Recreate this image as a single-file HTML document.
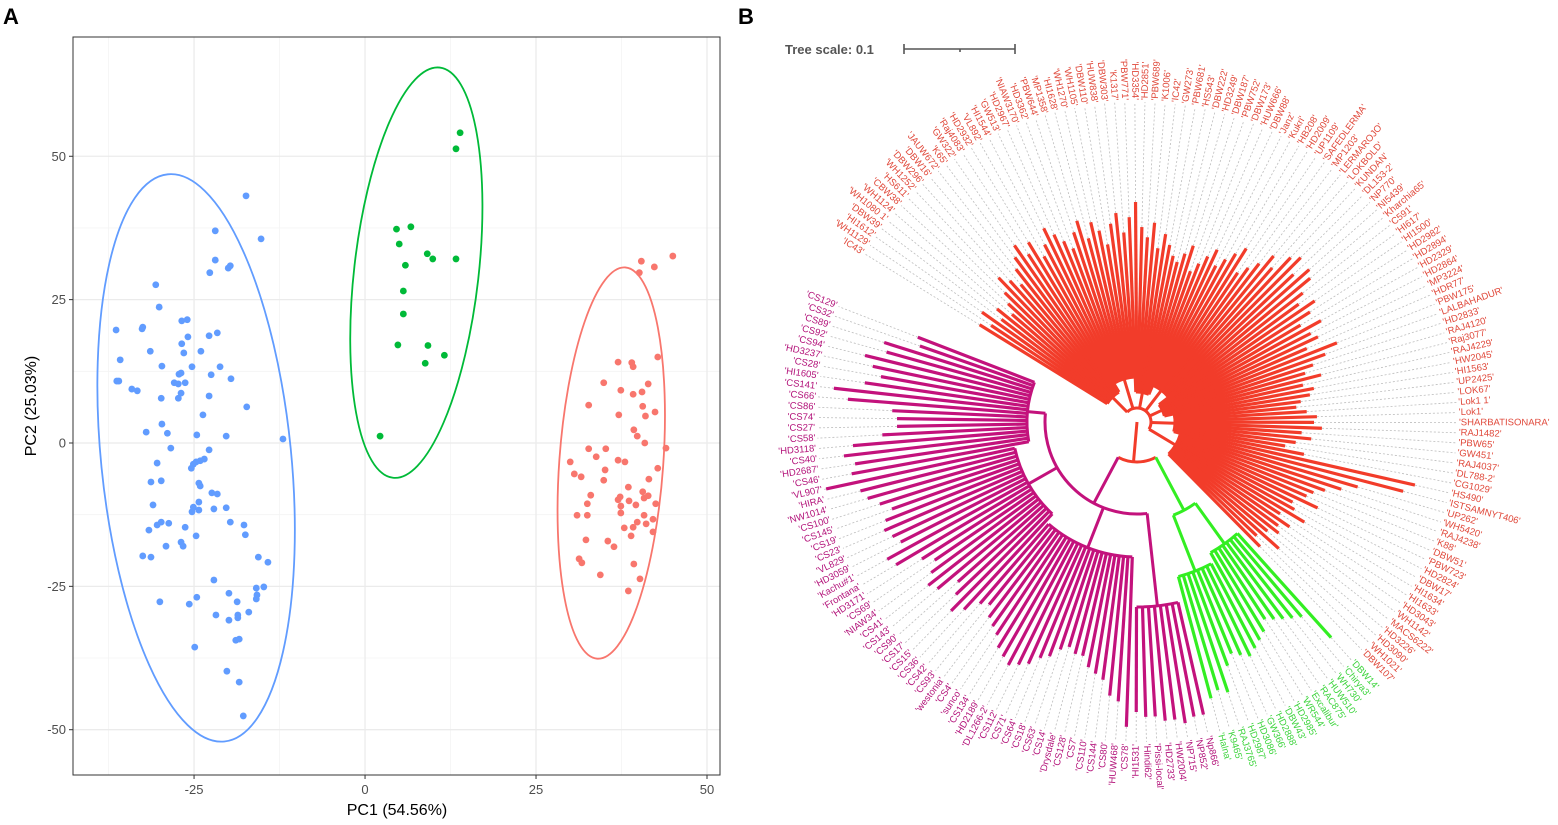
<!DOCTYPE html>
<html><head><meta charset="utf-8">
<style>
html,body{margin:0;padding:0;background:#fff;}
svg{display:block;font-family:"Liberation Sans",sans-serif;}
</style></head>
<body>
<svg id="root" width="1558" height="825" viewBox="0 0 1558 825" xmlns="http://www.w3.org/2000/svg">
  <text x="3" y="24" font-size="22" font-weight="bold">A</text>
  <text x="738" y="24" font-size="22" font-weight="bold">B</text>
  <g id="pca"></g>
  <g id="tree">
    <text x="785" y="54" font-size="13" font-weight="bold" fill="#555">Tree scale: 0.1</text>
    <g stroke="#555" stroke-width="1.6">
      <line x1="904" y1="49" x2="1015" y2="49"/><line x1="904" y1="44" x2="904" y2="54"/><line x1="1015" y1="44" x2="1015" y2="54"/><line x1="960" y1="49" x2="960" y2="52"/>
    </g>
  </g>
</svg>
<script>
const NS="http://www.w3.org/2000/svg";
// ---------- PCA data ----------
const xTicks=[-25,0,25,50];
const yTicks=[-50,-25,0,25,50];
const xMinor=[-37.5,-12.5,12.5,37.5];
const yMinor=[-37.5,-12.5,12.5,37.5];
const blueGroup=[[-17.4,43.1],[-21.9,37.0],[-15.2,35.6],[-21.9,31.9],[-19.7,30.9],[-20.0,30.5],[-22.7,29.7],[-30.6,27.6],[-30.1,23.7],[-26.8,21.3],[-26.0,21.5],[-36.4,19.7],[-32.5,20.2],[-32.6,19.9],[-25.9,18.5],[-22.8,18.7],[-21.6,19.2],[-26.8,17.3],[-31.4,16.0],[-26.5,15.7],[-24.0,16.0],[-35.8,14.5],[-29.7,13.4],[-25.3,13.3],[-21.2,13.3],[-26.9,12.2],[-27.2,12.0],[-22.5,11.9],[-19.6,11.2],[-36.3,10.8],[-36.0,10.8],[-34.1,9.4],[-33.3,9.1],[-27.9,10.5],[-27.3,10.3],[-26.3,10.5],[-26.9,8.7],[-27.3,7.8],[-29.8,7.8],[-22.8,8.2],[-17.3,6.3],[-23.7,4.9],[-29.7,3.3],[-32.0,1.9],[-28.9,1.7],[-24.6,1.4],[-20.3,1.2],[-12.0,0.7],[-28.4,-0.9],[-22.8,-1.2],[-23.5,-2.8],[-24.1,-3.1],[-24.7,-3.3],[-25.1,-3.7],[-25.4,-4.4],[-30.4,-3.5],[-31.3,-6.8],[-29.8,-6.6],[-24.3,-7.0],[-24.1,-7.5],[-22.4,-8.7],[-21.6,-8.9],[-31.0,-10.8],[-24.3,-10.3],[-25.1,-11.2],[-25.3,-12.0],[-24.3,-11.7],[-22.1,-11.5],[-20.3,-11.3],[-29.8,-13.8],[-30.4,-14.3],[-28.7,-14.0],[-31.6,-15.2],[-26.3,-14.7],[-24.7,-16.2],[-19.7,-13.8],[-17.7,-14.3],[-17.5,-16.0],[-26.9,-17.3],[-26.6,-18.0],[-29.1,-18.0],[-32.5,-19.7],[-31.3,-19.9],[-15.6,-19.9],[-14.2,-20.8],[-22.1,-23.9],[-15.9,-25.3],[-14.8,-25.1],[-15.8,-26.5],[-15.9,-27.2],[-19.9,-26.2],[-18.7,-27.7],[-30.0,-27.7],[-25.7,-28.1],[-24.6,-26.9],[-21.8,-30.0],[-19.9,-30.9],[-18.6,-30.0],[-18.6,-30.5],[-17.0,-29.5],[-18.9,-34.4],[-18.4,-34.2],[-24.9,-35.6],[-20.2,-39.8],[-18.4,-41.7],[-17.8,-47.6]];
const greenGroup=[[13.9,54.1],[13.3,51.3],[4.6,37.3],[6.7,37.7],[5.0,34.7],[9.1,33.0],[9.9,32.1],[13.3,32.1],[5.9,31.0],[5.6,26.5],[5.6,22.5],[11.6,15.3],[4.8,17.1],[9.2,17.0],[8.8,13.9],[2.2,1.2]];
const redGroup=[[40.4,31.7],[42.3,30.7],[45.0,32.6],[40.1,29.7],[37.0,14.1],[39.0,14.0],[39.2,13.3],[42.8,15.0],[34.9,10.5],[37.4,9.2],[41.4,10.3],[39.2,8.5],[40.5,8.9],[32.7,6.6],[40.6,6.4],[37.1,4.9],[41.0,4.7],[42.4,5.4],[39.3,2.3],[39.8,1.2],[40.9,0],[44.0,-0.9],[32.7,-1.0],[35.2,-1.0],[33.8,-2.4],[37.0,-3.0],[38.0,-3.3],[30.0,-3.3],[35.1,-4.7],[30.6,-5.4],[31.6,-5.9],[42.8,-4.4],[34.9,-6.5],[41.5,-6.3],[38.5,-7.7],[33.0,-9.1],[40.6,-8.5],[41.4,-9.2],[40.8,-9.6],[37.3,-9.4],[37.0,-9.9],[32.5,-10.6],[38.6,-10.1],[39.6,-10.8],[42.5,-10.6],[37.4,-11.0],[37.4,-12.2],[31.0,-12.6],[32.5,-12.6],[40.8,-12.6],[42.1,-13.3],[41.1,-14.1],[39.8,-13.8],[39.2,-14.7],[37.9,-14.8],[42.1,-15.5],[38.9,-16.2],[32.3,-16.9],[35.5,-17.1],[36.4,-18.1],[31.3,-20.2],[31.7,-20.9],[39.3,-21.1],[34.4,-23.0],[40.2,-23.7],[38.5,-25.8]];
// ellipses: center PC1, center PC2, half-width (PC1 units), half-height (PC2 units), tilt deg
const ellipseCenters=[[-24.7,-2.6],[7.5,29.7],[36.0,-3.5]];
const ellipseAxes=[[13.9,49.7],[9.1,36.0],[7.6,34.2]];
const ellipseTilt=[-5.7,6.5,4.1];
const groupColors=["#619CFF","#00BA38","#F8766D"];

const PX0=73,PX1=720,PY0=37,PY1=775;
const XMIN=-42.7,XMAX=51.9,YMIN=-57.9,YMAX=70.8;
const sx=v=>PX0+(v-XMIN)/(XMAX-XMIN)*(PX1-PX0);
const sy=v=>PY1-(v-YMIN)/(YMAX-YMIN)*(PY1-PY0);
function el(tag,attrs,parent){const e=document.createElementNS(NS,tag);for(const k in attrs)e.setAttribute(k,attrs[k]);parent.appendChild(e);return e;}
const pca=document.getElementById('pca');
el('rect',{x:PX0,y:PY0,width:PX1-PX0,height:PY1-PY0,fill:'#fff'},pca);
xMinor.forEach(v=>{const l=el('line',{x1:sx(v),x2:sx(v),y1:PY0,y2:PY1,stroke:'#f4f4f4','stroke-width':0.8},pca);

});
yMinor.forEach(v=>{const l=el('line',{y1:sy(v),y2:sy(v),x1:PX0,x2:PX1,stroke:'#f4f4f4','stroke-width':0.8},pca);

});
xTicks.forEach(v=>{const l=el('line',{x1:sx(v),x2:sx(v),y1:PY0,y2:PY1,stroke:'#ebebeb','stroke-width':1.3},pca);


const t=el('line',{x1:sx(v),x2:sx(v),y1:PY1,y2:PY1+4,stroke:'#333','stroke-width':1},pca);


const tx=el('text',{x:sx(v),y:PY1+19,'text-anchor':'middle','font-size':13,fill:'#4d4d4d'},pca);tx.textContent=v;

});
yTicks.forEach(v=>{const l=el('line',{y1:sy(v),y2:sy(v),x1:PX0,x2:PX1,stroke:'#ebebeb','stroke-width':1.3},pca);


const t=el('line',{y1:sy(v),y2:sy(v),x1:PX0-4,x2:PX0,stroke:'#333','stroke-width':1},pca);


const tx=el('text',{x:PX0-7,y:sy(v)+4.5,'text-anchor':'end','font-size':13,fill:'#4d4d4d'},pca);tx.textContent=v;

});
[blueGroup,greenGroup,redGroup].forEach((g,gi)=>{
  const c=ellipseCenters[gi],a=ellipseAxes[gi];
  const cx=sx(c[0]),cy=sy(c[1]);
  const rx=sx(c[0]+a[0])-cx, ry=cy-sy(c[1]+a[1]);
  const e=el('ellipse',{cx:cx,cy:cy,rx:rx,ry:ry,fill:'none',stroke:groupColors[gi],'stroke-width':1.8,transform:`rotate(${ellipseTilt[gi]} ${cx} ${cy})`},pca);
  
  
  g.forEach(p=>{const d=el('circle',{cx:sx(p[0]),cy:sy(p[1]),r:3.4,fill:groupColors[gi]},pca);
  
  });
});
const fr=el('rect',{x:PX0,y:PY0,width:PX1-PX0,height:PY1-PY0,fill:'none',stroke:'#333','stroke-width':1},pca);


const xt=el('text',{x:397,y:815,'text-anchor':'middle','font-size':16,fill:'#000'},pca);xt.textContent='PC1 (54.56%)';


const yt=el('text',{x:0,y:0,'text-anchor':'middle','font-size':16,fill:'#000',transform:'translate(36,406) rotate(-90)'},pca);yt.textContent='PC2 (25.03%)';



// ---------- Tree data ----------
const purpleLeaves=["Np866","NP852","NP715","HW2004","HD2733","Pissi-local","Hindi62","HI1531","CS78","HUW468","CS80","CS144","CS110","CS7","CS128","Drysdale","CS14","CS63","CS18","CS64","CS71","CS112","DL1266-2","HD2189","CS134","sunco","CS4","westonia","CS93","CS42","CS36","CS15","CS17","CS90","CS143","CS41","NIAW34","CS69","HD3171","Frontana","Kachu#1","HD3059","VL829","CS23","CS19","CS145","CS100","NW1014","HIRA","VL907","CS46","HD2687","CS40","HD3118","CS58","CS27","CS74","CS86","CS66","CS141","HI1605","CS28","HD3237","CS94","CS92","CS89","CS32","CS129"];
const purpleTips=[300,300,305,300,300,295,295,290,305,280,275,260,255,250,240,240,235,240,250,255,265,270,275,270,265,255,250,245,235,240,255,265,250,240,260,265,255,245,255,280,285,265,270,275,270,260,270,280,285,318,290,285,295,285,255,240,240,245,290,305,275,260,270,280,260,265,230,235];
const redLeaves=["IC43","WH1129","HI1612","DBW39","WH1080 1","WH1124","CBW38","HS611","WH1252","DBW296","DBW16","JAUW672","K65","GW322","Raj4083","HD2932","VL892","HI1544","GW513","HD2967","NIAW3170","HD3362","PBW644","MP1358","HI1628","WH1270","WH1105","DBW110","HUW838","DBW303","K1317","PBW771","HD3354","HD2851","PBW689","K1006","IC42","GW273","PBW681","HS543","DBW222","HD3249","DBW187","PBW752","DBW173","HUW666","DBW88","Janz","Kukri","HB208","HD2009","UP1109","SAFEDLERMA","MP1203","LERMAROJO","LOKBOLD","KUNDAN","DL153-2","NP770","NI5439","Kharchia65","C591","HI617","HI1500","HD2982","HD2894","HD2329","HD2864","MP3224","HDR77","PBW175","LALBAHADUR","HD2833","RAJ4120","Raj3077","RAJ4229","HW2045","HI1563","UP2425","LOK67","Lok1 1","Lok1","SHARBATISONARA","RAJ1482","PBW65","GW451","RAJ4037","DL788-2","CG1029","HS490","ISTSAMNYT406","UP262","WH5420","RAJ4238","K88","DBW51","PBW723","HD2824","DBW17","HI1634","HI1633","HD3043","WH1142","MACS6222","HD3226","HD3090","WH1021","DBW107"];
const redTips=[185,175,190,170,180,165,175,185,200,190,180,195,205,215,200,210,190,200,215,205,195,185,200,210,190,205,195,180,200,210,190,205,220,195,185,200,175,190,180,170,165,175,185,160,170,180,190,175,185,195,205,180,190,200,215,205,225,232,215,230,225,210,200,215,205,190,210,195,200,185,215,200,185,175,190,170,180,175,165,160,170,180,177,185,165,175,160,150,170,285,275,230,215,200,190,185,200,175,180,195,170,185,175,180,170,190,165,175];
const greenLeaves=["DBW14","Chirya3","WH730","HUW510","RAC875","Excalibur","WR544","HD2985","DBW43","HD2888","GW366","HD3086","HD2987","RAJ3765","K9465","Halna"];
const greenTips=[290,255,250,245,240,235,245,250,255,260,255,250,260,285,280,286];
// angular layout (degrees, clockwise from east)
const purpleStart=77.2, purpleStep=1.85;
const redStart=211.7, redStep=1.81;
const greenStart=48.0, greenStep=1.8;
// sub-clade index boundaries and base radii
const purpleClades=[[0,7,185],[8,29,135],[30,49,125],[50,67,110]];
const redClades=[[0,15,35],[16,30,45],[31,45,30],[46,60,40],[61,75,28],[76,90,38],[91,107,45]];
const greenClades=[[0,7,150],[8,15,160]];

const CX=1137,CY=422,RLAB=322;
const rad=a=>a*Math.PI/180;
const pt=(r,a)=>[CX+r*Math.cos(rad(a)),CY+r*Math.sin(rad(a))];
const tree=document.getElementById('tree');
function arc(r,a1,a2,color,w,name){const p1=pt(r,a1),p2=pt(r,a2);const large=(a2-a1)>180?1:0;
  const p=el('path',{d:`M${p1[0]},${p1[1]} A${r},${r} 0 ${large} 1 ${p2[0]},${p2[1]}`,fill:'none',stroke:color,'stroke-width':w},tree);
  
  }
function radial(r1,r2,a,color,w,name,dash){const p1=pt(r1,a),p2=pt(r2,a);
  const l=el('line',{x1:p1[0],y1:p1[1],x2:p2[0],y2:p2[1],stroke:color,'stroke-width':w},tree);
  if(dash)l.setAttribute('stroke-dasharray',dash);
  
  }
function drawGroup(names,tips,start,step,clades,branchCol,labCol,mainR){
  const mids=[];
  clades.forEach(c=>{
    const a1=start+c[0]*step,a2=start+c[1]*step;
    arc(c[2],a1,a2,branchCol,3,'clade-arc');
    mids.push((a1+a2)/2);
    radial(mainR,c[2],(a1+a2)/2,branchCol,3,'clade-stem');
    for(let i=c[0];i<=c[1];i++){
      const a=start+i*step;
      radial(tips[i],RLAB-2,a,'#bdbdbd',0.8,'leaf-guide','2 2');
      radial(c[2],tips[i],a,branchCol,3.2,'leaf-branch');
      const p=pt(RLAB,a);let an=((a%360)+360)%360;
      const left=an>90&&an<270;
      const t=el('text',{x:0,y:0,'font-size':9.5,fill:labCol,'dominant-baseline':'middle','text-anchor':left?'end':'start',
        transform:`translate(${p[0]},${p[1]}) rotate(${left?an-180:an})`},tree);
      t.textContent="'"+names[i]+"'";
      
      
    }
  });
  arc(mainR,Math.min(...mids),Math.max(...mids),branchCol,3,'group-arc');
  return mids;
}
drawGroup(redLeaves,redTips,redStart,redStep,redClades,'#f23c2a','#e0483a',14);
drawGroup(purpleLeaves,purpleTips,purpleStart,purpleStep,purpleClades,'#c3127c','#b3137a',92);
drawGroup(greenLeaves,greenTips,greenStart,greenStep,greenClades,'#33ee22','#3dd43d',100);
// root connections
radial(0,40,95,'#f23c2a',3,'root-stem');
arc(40,62,118,'#f23c2a',3,'root-arc');
radial(40,92,118,'#c3127c',3,'purple-stem');
radial(40,100,62,'#33ee22',3,'green-stem');
</script>
</body></html>
